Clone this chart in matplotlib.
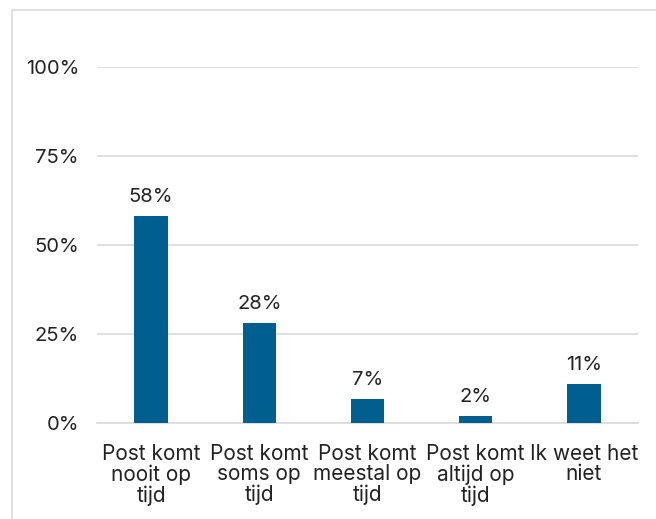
import matplotlib.pyplot as plt
from matplotlib.patches import Rectangle

plt.rcParams['font.family'] = ['Inter', 'DejaVu Sans']

categories = ["Post komt\nnooit op\ntijd", "Post komt\nsoms op\ntijd", "Post komt\nmeestal op\ntijd",
              "Post komt\naltijd op\ntijd", "Ik weet het\nniet"]
values = [0.581, 0.281, 0.067, 0.020, 0.109]
labels = ["58%", "28%", "7%", "2%", "11%"]
yticks = [0, 0.25, 0.5, 0.75, 1.0]
yticklabels = ["0%", "25%", "50%", "75%", "100%"]

fig = plt.figure(figsize=(6.56, 5.19), dpi=100)
ax = fig.add_axes([97/656, 1 - 423/519, 541/656, 356/519])

# outer chart border (cropped on right/bottom)
fig.patches.append(Rectangle((12/656, -0.1), 1.0, 1 - 10/519 + 0.1, transform=fig.transFigure,
                             fill=False, edgecolor='#d9d9d9', linewidth=1.2))

x = range(len(categories))
bars = ax.bar(x, values, width=0.31, color='#005F8E', zorder=3)
for b, lab in zip(bars, labels):
    ax.annotate(lab, (b.get_x() + b.get_width()/2, b.get_height()), xytext=(0, 7),
                textcoords='offset points', ha='center', va='bottom', fontsize=14.5, color='#222222')

ax.set_ylim(0, 1)
ax.set_xlim(-0.5, len(categories) - 0.5)
ax.set_yticks(yticks)
ax.set_yticklabels(yticklabels, fontsize=14.5, color='#222222')
ax.set_xticks(list(x))
ax.set_xticklabels(categories, fontsize=15, color='#222222', linespacing=1.03)
ax.tick_params(axis='y', length=0, pad=13)
ax.tick_params(axis='x', length=0, pad=15)
ax.grid(axis='y', color='#d9d9d9', linewidth=1.2, zorder=0)
for s in ['top', 'right', 'left']:
    ax.spines[s].set_visible(False)
ax.spines['bottom'].set_color('#d9d9d9')
ax.spines['bottom'].set_linewidth(1.2)

fig.savefig('out.png', dpi=100)
